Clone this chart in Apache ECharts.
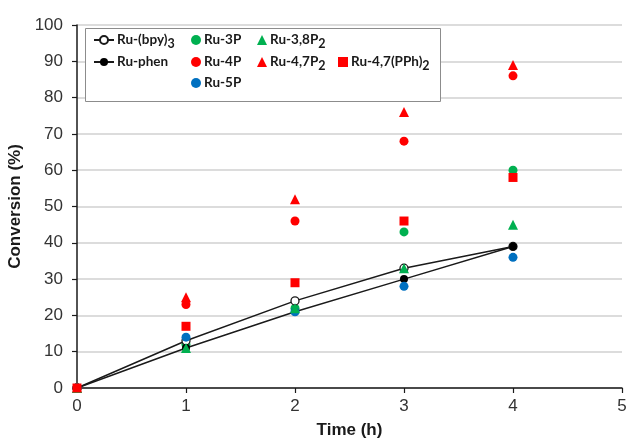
<!DOCTYPE html>
<html>
<head>
<meta charset="utf-8">
<script src="https://cdn.jsdelivr.net/npm/echarts@6/dist/echarts.min.js"></script>
<style>html,body{margin:0;padding:0;background:#fff;}#c{width:627px;height:441px;}</style>
</head>
<body>
<div id="c"></div>
<script>
// ---- data ----
var times = [0, 1, 2, 3, 4];
var xTicks = [0, 1, 2, 3, 4, 5];
var yTicks = [0, 10, 20, 30, 40, 50, 60, 70, 80, 90, 100];
var ruBpy3   = [0, 13, 24, 33, 39];
var ruPhen   = [0, 11, 21, 30, 39];
var ru3P     = [0, 12, 22, 43, 60];
var ru4P     = [0, 23, 46, 68, 86];
var ru5P     = [0, 14, 21, 28, 36];
var ru38P2   = [0, 11, 22, 33, 45];
var ru47P2   = [0, 25, 52, 76, 89];
var ru47PPh2 = [0, 17, 29, 46, 58];

function pairs(v) { return times.map(function (t, i) { return [t, v[i]]; }); }

var GREEN = '#00b050', RED = '#ff0000', BLUE = '#0070c0';

var series = [
  { name: 'Ru-(bpy)3', type: 'line', data: pairs(ruBpy3), symbol: 'circle', symbolSize: 8,
    lineStyle: { color: '#1a1a1a', width: 1.5 }, itemStyle: { color: '#fff', borderColor: '#1a1a1a', borderWidth: 1.3 }, z: 3 },
  { name: 'Ru-phen', type: 'line', data: pairs(ruPhen), symbol: 'circle', symbolSize: 8,
    lineStyle: { color: '#1a1a1a', width: 1.5 }, itemStyle: { color: '#000' }, z: 3 },
  { name: 'Ru-3P', type: 'scatter', data: pairs(ru3P), symbol: 'circle', symbolSize: 9, itemStyle: { color: GREEN, opacity: 1 }, z: 2 },
  { name: 'Ru-4P', type: 'scatter', data: pairs(ru4P), symbol: 'circle', symbolSize: 9, itemStyle: { color: RED, opacity: 1 }, z: 2 },
  { name: 'Ru-5P', type: 'scatter', data: pairs(ru5P), symbol: 'circle', symbolSize: 9, itemStyle: { color: BLUE, opacity: 1 }, z: 4 },
  { name: 'Ru-3,8P2', type: 'scatter', data: pairs(ru38P2), symbol: 'triangle', symbolSize: 10, itemStyle: { color: GREEN, opacity: 1 }, z: 4 },
  { name: 'Ru-4,7P2', type: 'scatter', data: pairs(ru47P2), symbol: 'triangle', symbolSize: 10, itemStyle: { color: RED, opacity: 1 }, z: 2 },
  { name: 'Ru-4,7(PPh)2', type: 'scatter', data: pairs(ru47PPh2), symbol: 'rect', symbolSize: 9, itemStyle: { color: RED, opacity: 1 }, z: 5 }
];

// legend layout (style)
var legendPos = [
  ['Ru-(bpy)3', 93, 33, 20],
  ['Ru-phen', 93, 55, 20],
  ['Ru-3P', 191, 33, 10],
  ['Ru-4P', 191, 55, 10],
  ['Ru-5P', 191, 76, 10],
  ['Ru-3,8P2', 257, 33, 10],
  ['Ru-4,7P2', 257, 55, 10],
  ['Ru-4,7(PPh)2', 338, 55, 10]
];
var legends = legendPos.map(function (p) {
  return {
    data: [p[0]], left: p[1], top: p[2], orient: 'vertical', padding: 0,
    itemWidth: p[3], itemHeight: 10, itemGap: 0, selectedMode: false,
    formatter: function (name) {
      return '{m|' + name.replace(/([)P])(\d)$/, '$1}{s|$2') + '}';
    },
    textStyle: {
      padding: [0, 0, 0, -2],
      rich: {
        m: { fontFamily: 'Lato', fontWeight: 'bold', fontSize: 13.5, color: '#1a1a1a', height: 16 },
        s: { fontFamily: 'Lato', fontWeight: 'bold', fontSize: 12.5, color: '#1a1a1a', padding: [8, 0, 0, 0] }
      }
    }
  };
});

var chart = echarts.init(document.getElementById('c'), null, { renderer: 'canvas' });
chart.setOption({
  animation: false,
  backgroundColor: '#fff',
  grid: { left: 77, right: 5, top: 25, bottom: 53, containLabel: false, outerBoundsMode: 'none' },
  legend: legends,
  graphic: [{
    type: 'rect', z: 1, left: 85, top: 28,
    shape: { width: 355, height: 73 },
    style: { fill: '#fff', stroke: '#8c8c8c', lineWidth: 1 }
  }],
  xAxis: {
    type: 'value', min: xTicks[0], max: xTicks[xTicks.length - 1], interval: 1,
    name: 'Time (h)', nameLocation: 'middle', nameGap: 34,
    nameTextStyle: { fontFamily: 'Liberation Sans', fontWeight: 'bold', fontSize: 17, color: '#1a1a1a' },
    axisLine: { lineStyle: { color: '#1a1a1a', width: 1.5 } },
    axisTick: { show: true, length: 5, lineStyle: { color: '#1a1a1a', width: 1.2 } },
    axisLabel: { margin: 10, fontFamily: 'Liberation Sans', fontSize: 17, color: '#333' },
    splitLine: { show: false }
  },
  yAxis: {
    type: 'value', min: yTicks[0], max: yTicks[yTicks.length - 1], interval: 10,
    name: 'Conversion (%)', nameLocation: 'middle', nameGap: 44,
    nameTextStyle: { fontFamily: 'Liberation Sans', fontWeight: 'bold', fontSize: 17, color: '#1a1a1a' },
    axisLine: { show: true, lineStyle: { color: '#1a1a1a', width: 1.5 } },
    axisTick: { show: true, length: 5, lineStyle: { color: '#1a1a1a', width: 1.2 } },
    axisLabel: { margin: 14, fontFamily: 'Liberation Sans', fontSize: 17, color: '#333' },
    splitLine: { show: true, lineStyle: { color: '#d0d0d0', width: 1.5 } }
  },
  series: series
});
</script>
</body>
</html>
